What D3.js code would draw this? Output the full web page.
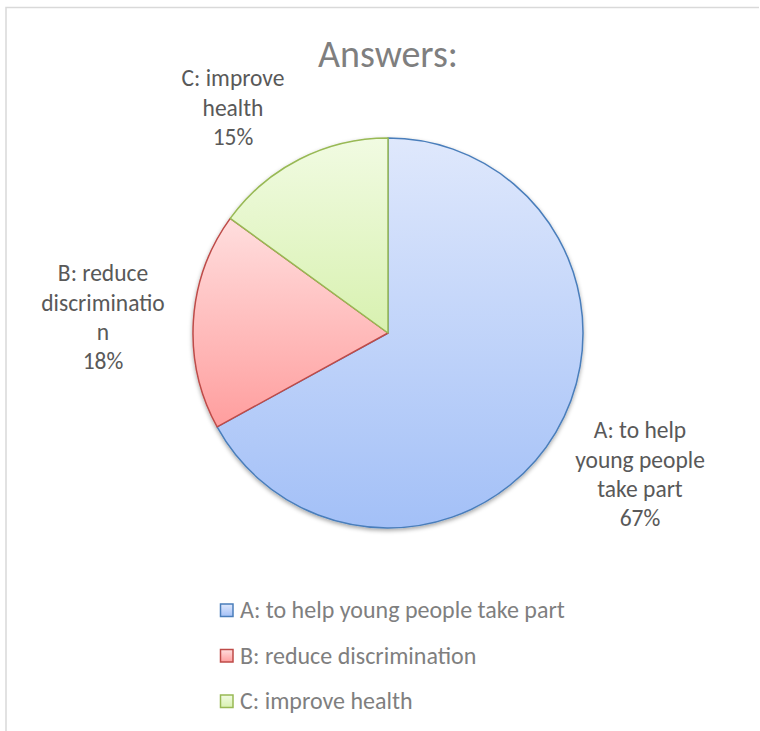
<!DOCTYPE html>
<html>
<head>
<meta charset="utf-8">
<script src="https://cdn.jsdelivr.net/npm/d3@7"></script>
<style>
  body { margin: 0; background: #fff; }
  text { font-family: Carlito, Lato, 'Open Sans', sans-serif; }
  .label { fill: #595959; font-size: 23.5px; }
  .legend-text { fill: #7f7f7f; font-size: 24px; }
  .title { fill: #7f7f7f; font-size: 38px; font-weight: 300; }
</style>
</head>
<body>
<div id="chart"></div>
<script>
let categories = ['A: to help young people take part', 'B: reduce discrimination', 'C: improve health']
let values = [67, 18, 15]
let labelLines = [
  ['A: to help', 'young people', 'take part', '67%'],
  ['B: reduce', 'discriminatio', 'n', '18%'],
  ['C: improve', 'health', '15%']
]
let labelPos = [[640, 430], [103, 273], [233, 78]]

let colors = [
  { top: '#dfe8fc', bottom: '#a3c0f7', stroke: '#4a7ebb' },
  { top: '#ffdede', bottom: '#ff9e9e', stroke: '#be4b48' },
  { top: '#f1fbe2', bottom: '#d8f1b0', stroke: '#98b954' }
]

let width = 760, height = 731
let cx = 388, cy = 333, radius = 195

let svg = d3.select('#chart')
.append('svg')
.attr('width', width)
.attr('height', height)

// chart frame
svg.append('path')
.attr('d', `M6,731 V7.5 H759`)
.attr('fill', 'none')
.attr('stroke', '#d9d9d9')
.attr('stroke-width', 1.5)

let defs = svg.append('defs')

colors.forEach((c, i) => {
  let g = defs.append('linearGradient')
  .attr('id', 'grad' + i)
  .attr('x1', 0).attr('y1', 0).attr('x2', 0).attr('y2', 1)
  g.append('stop').attr('offset', '0%').attr('stop-color', c.top)
  g.append('stop').attr('offset', '100%').attr('stop-color', c.bottom)
})

defs.append('filter')
.attr('id', 'shadow')
.attr('x', '-10%').attr('y', '-10%').attr('width', '120%').attr('height', '125%')
.append('feDropShadow')
.attr('dx', 0).attr('dy', 2)
.attr('stdDeviation', 2)
.attr('flood-color', '#000')
.attr('flood-opacity', 0.35)

svg.append('text')
.attr('class', 'title')
.attr('x', cx)
.attr('y', 67)
.attr('text-anchor', 'middle')
.text('Answers:')

let pie = d3.pie().sort(null).value(d => d)
let arc = d3.arc().innerRadius(0).outerRadius(radius)

let pieG = svg.append('g')
.attr('transform', `translate(${cx}, ${cy})`)
.attr('filter', 'url(#shadow)')

pieG.selectAll('.slice')
.data(pie(values))
.join('path')
.attr('class', 'slice')
.attr('d', arc)
.attr('fill', (d, i) => `url(#grad${i})`)
.attr('stroke', (d, i) => colors[i].stroke)
.attr('stroke-width', 1.5)
.attr('stroke-linejoin', 'round')

// data labels
let labels = svg.selectAll('.label')
.data(labelLines)
.join('text')
.attr('class', 'label')
.attr('text-anchor', 'middle')
.attr('transform', (d, i) => `translate(${labelPos[i][0]}, ${labelPos[i][1]})`)

labels.selectAll('tspan')
.data(d => d)
.join('tspan')
.attr('x', 0)
.attr('y', (d, i) => i * 29.3)
.attr('dy', '0.35em')
.text(d => d)

// legend
let legend = svg.selectAll('.legend')
.data(categories)
.join('g')
.attr('class', 'legend')
.attr('transform', (d, i) => `translate(220, ${610 + i * 45.5})`)

legend.append('rect')
.attr('x', 0.5)
.attr('y', -6)
.attr('width', 12.5)
.attr('height', 12.5)
.attr('fill', (d, i) => `url(#grad${i})`)
.attr('stroke', (d, i) => colors[i].stroke)
.attr('stroke-width', 1.5)

legend.append('text')
.attr('class', 'legend-text')
.attr('x', 20)
.attr('y', 0)
.attr('dy', '0.35em')
.text(d => d)
</script>
</body>
</html>
